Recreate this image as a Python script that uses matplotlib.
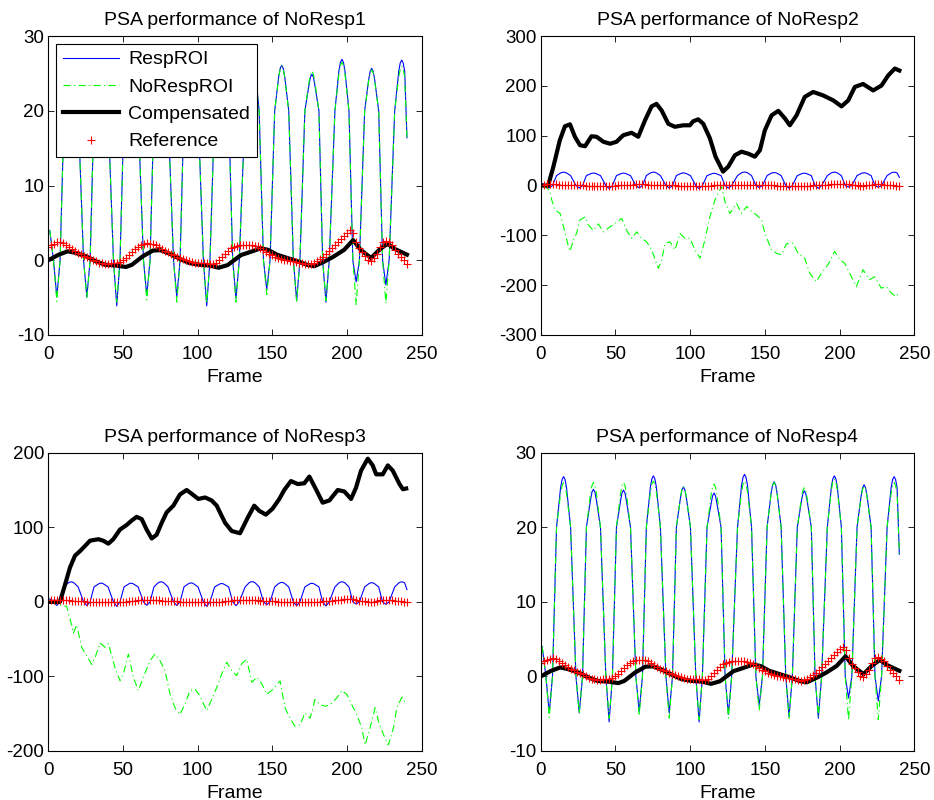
import numpy as np
import matplotlib
matplotlib.use("Agg")
import matplotlib.pyplot as plt

plt.rcParams['font.family'] = ['Liberation Sans', 'DejaVu Sans']
plt.rcParams['axes.unicode_minus'] = False

# RespROI (same signal in all four panels)
resp_frames = [1, 3.5,
               5.7, 7.9, 10.6, 13.3, 14.3, 15.3, 16.3, 17.3, 20.0, 23.6,
               25.8, 28.0, 30.6, 33.3, 34.3, 35.3, 36.3, 37.3, 40.0, 43.6,
               45.8, 48.0, 50.7, 53.4, 54.4, 55.4, 56.4, 57.4, 60.1, 63.7,
               65.9, 68.1, 70.7, 73.4, 74.4, 75.4, 76.4, 77.4, 80.1, 83.8,
               86.0, 88.2, 90.8, 93.5, 94.5, 95.5, 96.5, 97.5, 100.2, 103.8,
               106.0, 108.2, 111.3, 114.0, 115.0, 116.0, 117.0, 118.0, 120.7, 123.4,
               125.6, 127.8, 131.7, 134.4, 135.4, 136.4, 137.4, 138.4, 141.1, 144.0,
               146.2, 148.4, 151.5, 154.2, 155.2, 156.2, 157.2, 158.2, 160.9, 164.0,
               166.2, 168.4, 171.7, 174.4, 175.4, 176.4, 177.4, 178.4, 181.1, 183.6,
               185.8, 188.0, 191.8, 194.5, 195.5, 196.5, 197.5, 198.5, 201.2, 203.8,
               206.0, 208.2, 211.7, 214.4, 215.4, 216.4, 217.4, 218.4, 221.1, 223.7,
               225.9, 228.1, 231.8, 234.5, 235.5, 236.5, 237.5, 238.5, 240]
resp_vals = [4.0, 0,
             -4.9, 0, 20, 25.3, 26.4, 26.8, 26.4, 25.3, 20, 0,
             -4.9, 0, 20, 23.6, 24.7, 25.1, 24.7, 23.6, 20, 0,
             -6.1, 0, 20, 23.5, 24.6, 25.0, 24.6, 23.5, 20, 0,
             -4.7, 0, 20, 25.4, 26.5, 26.9, 26.5, 25.4, 20, 0,
             -4.9, 0, 20, 23.9, 25.0, 25.4, 25.0, 23.9, 20, 0,
             -6.1, 0, 20, 23.1, 24.2, 24.6, 24.2, 23.1, 20, 0,
             -5.1, 0, 20, 25.6, 26.7, 27.1, 26.7, 25.6, 20, 0,
             -3.9, 0, 20, 24.6, 25.7, 26.1, 25.7, 24.6, 20, 0,
             -5.4, 0, 20, 23.4, 24.5, 24.9, 24.5, 23.4, 20, 0,
             -5.6, 0, 20, 25.4, 26.5, 26.9, 26.5, 25.4, 20, 0,
             -2.9, 0, 20, 24.2, 25.3, 25.7, 25.3, 24.2, 20, 0,
             -3.3, 0, 20, 25.3, 26.4, 26.8, 26.4, 25.3, 16.4]

# NoRespROI for NoResp1 / NoResp4 (same frames as RespROI)
noresp14_vals = [4.0, 0,
                 -5.5, 0, 20, 24.5, 25.6, 26.0, 25.6, 24.5, 20, 0,
                 -5.0, 0, 20, 24.5, 25.6, 26.0, 25.6, 24.5, 20, 0,
                 -5.6, 0, 20, 24.5, 25.6, 26.0, 25.6, 24.5, 20, 0,
                 -5.3, 0, 20, 24.7, 25.8, 26.2, 25.8, 24.7, 20, 0,
                 -5.6, 0, 20, 24.0, 25.1, 25.5, 25.1, 24.0, 20, 0,
                 -5.8, 0, 20, 24.3, 25.4, 25.8, 25.4, 24.3, 20, 0,
                 -5.6, 0, 20, 24.7, 25.8, 26.2, 25.8, 24.7, 20, 0,
                 -4.6, 0, 20, 24.5, 25.6, 26.0, 25.6, 24.5, 20, 0,
                 -5.6, 0, 20, 23.8, 24.9, 25.3, 24.9, 23.8, 20, 0,
                 -5.4, 0, 20, 25.0, 26.1, 26.5, 26.1, 25.0, 20, 0,
                 -5.9, 0, 20, 24.0, 25.1, 25.5, 25.1, 24.0, 20, 0,
                 -5.8, 0, 20, 24.5, 25.6, 26.0, 25.6, 24.5, 16.4]

# Reference (every second frame)
ref_frames = np.arange(0, 241, 2)
ref_vals = [1.8, 2.0, 2.2, 2.4, 2.5, 2.3, 2.1, 1.8, 1.5, 1.2,
            1.0, 0.8, 0.6, 0.45, 0.3, 0.0, -0.15, -0.3, -0.4, -0.45,
            -0.45, -0.4, -0.4, -0.35, -0.2, 0.1, 0.3, 0.7, 1.1, 1.5,
            1.8, 2.0, 2.2, 2.25, 2.2, 2.15, 2.0, 1.8, 1.55, 1.3,
            1.05, 0.85, 0.7, 0.5, 0.3, 0.15, 0.0, -0.1, -0.25, -0.3,
            -0.35, -0.35, -0.4, -0.4, -0.45, -0.45, -0.3, 0.0, 0.4, 0.8,
            1.3, 1.6, 1.8, 1.9, 2.0, 2.05, 2.1, 2.1, 2.05, 1.95,
            1.85, 1.6, 1.35, 1.1, 0.9, 0.7, 0.5, 0.3, 0.2, 0.1,
            0.0, -0.05, -0.15, -0.2, -0.3, -0.4, -0.5, -0.55, -0.45, -0.3,
            -0.1, 0.2, 0.5, 0.85, 1.3, 1.7, 2.1, 2.5, 2.9, 3.3,
            3.7, 4.0, 3.6, 2.5, 1.6, 1.1, 0.6, 0.1, -0.1, 0.3,
            0.9, 1.8, 2.5, 2.6, 2.4, 2.0, 1.4, 0.9, 0.5, 0.1,
            -0.5]

# Compensated for NoResp1 / NoResp4
comp14_frames = [0, 7, 13, 18, 25, 32, 38, 45, 52, 56, 63, 70, 75, 81, 88, 94, 101, 108, 114, 120,
                 125, 129, 138, 142, 147, 153, 160, 167, 173, 178, 185, 191, 198, 204, 209, 216, 222, 227, 232, 240]
comp14_vals = [0.0, 0.75, 1.2, 1.0, 0.55, -0.15, -0.6, -0.7, -0.9, -0.6, 0.5, 1.3, 1.35, 0.9, 0.2, -0.35, -0.6, -0.7, -1.0, -0.65,
               0.1, 0.7, 1.3, 1.6, 1.4, 0.75, 0.3, -0.15, -0.6, -0.8, -0.15, 0.5, 1.4, 2.7, 1.4, 0.3, 1.5, 2.2, 1.5, 0.75]

# NoResp2
comp2_frames = [0, 5, 8.5, 12.8, 16.2, 19.6, 22.9, 26.3, 29.7, 34, 37.4, 41.9, 46.4, 50.8, 55.2, 60.8, 65.3, 69.8, 74.2, 77.5,
                80.9, 85.4, 89.8, 95.3, 99.8, 102, 105.4, 108.8, 113.2, 117, 122, 125.5, 130, 134.4, 138.9, 143.3, 146.7, 150, 154.5, 159,
                163.4, 166.7, 171.2, 176.7, 182.3, 189, 195.8, 201.3, 205.8, 210.2, 215.7, 222.5, 228.1, 232.5, 237, 240]
comp2_vals = [0, 0, 38, 91, 119, 123, 98, 81, 79, 99, 98, 88, 84, 88, 101, 106, 98, 131, 159, 164,
              151, 124, 118, 121, 121, 129, 133, 124, 95, 58, 28, 38, 61, 68, 64, 58, 71, 111, 141, 150,
              135, 121, 141, 178, 188, 181, 171, 159, 171, 198, 204, 191, 201, 221, 235, 231]
noresp2_frames = [1.8, 5.8, 7.4, 9.6, 13, 15.2, 18.5, 19.6, 21.9, 24, 26.3, 29.6, 31.9, 35.2, 38.6, 41.9, 46.4, 49.7, 54.2, 57.5,
                  60.9, 64.2, 67.6, 70.9, 74.3, 78.7, 81, 83.2, 86.5, 89.9, 93.2, 96.5, 99.9, 103.2, 106.6, 109.9, 113.2, 116.6, 118.8, 121.1,
                  123.3, 126.6, 131.1, 134.4, 137.8, 141.1, 144.4, 147.8, 150, 154.5, 157.8, 161.1, 164.4, 168.9, 172.2, 176.7, 180, 184.5, 187.8, 192.3,
                  196.7, 200.1, 203.4, 207.9, 211.2, 215.7, 220.1, 223.5, 227.9, 231.3, 234.6, 238, 240]
noresp2_vals = [0, -9, -29, -49, -56, -82, -122, -132, -109, -96, -69, -63, -79, -90, -77, -93, -83, -76, -66, -90,
                -106, -93, -106, -113, -129, -166, -149, -116, -113, -129, -96, -106, -106, -129, -146, -109, -63, -29, -15, -2,
                -32, -56, -36, -56, -42, -52, -59, -69, -96, -129, -136, -139, -117, -116, -136, -146, -176, -193, -176, -159,
                -132, -149, -156, -183, -203, -169, -189, -183, -206, -203, -216, -223, -213]

# NoResp3
comp3_frames = [0, 7.8, 11.2, 14.5, 17.9, 21.2, 24.6, 27.9, 33.5, 36.8, 40.2, 43.5, 48, 52.4, 55.8, 59.1, 62.5, 65.8, 69.2, 72.5,
                75.9, 79.2, 83.7, 88.1, 92.6, 95.9, 100.4, 104.9, 109.3, 112.7, 118.3, 122.7, 128.3, 133.5, 137.8, 141.2, 145.6, 150.1, 154.6, 157.9,
                162.4, 166.9, 171.3, 174.7, 179.1, 183.6, 188.1, 193.7, 198.1, 202.6, 205.9, 209.3, 213.8, 217.1, 219.4, 223.8, 227.2, 230.5, 235, 237.3,
                239.5]
comp3_vals = [0, 0, 23, 46, 62, 68, 75, 82, 84, 82, 78, 84, 97, 103, 109, 114, 111, 97, 85, 90,
              106, 120, 129, 144, 150, 145, 138, 140, 136, 129, 106, 95, 92, 113, 129, 122, 117, 125, 138, 150,
              162, 158, 159, 168, 151, 133, 136, 150, 148, 138, 153, 176, 192, 183, 171, 171, 183, 176, 158, 151,
              152]
noresp3_frames = [1.1, 7.8, 12.3, 15.6, 16.8, 19, 22.3, 25.7, 29, 31.3, 34.6, 38, 40.2, 44.6, 48, 50.2, 53.6, 56.9, 60.3, 63.6,
                  68.1, 71.4, 74.8, 78.1, 81.5, 84.8, 88.1, 91.5, 94.8, 98.2, 101.5, 106, 109.3, 112.7, 116, 119.4, 122.7, 126.1, 129.4, 132.8,
                  136.2, 139.5, 142.9, 146.2, 150.6, 155.1, 158.4, 161.8, 165.1, 168.5, 171.8, 175.2, 178.5, 181.9, 185.2, 188.6, 193, 196.4, 199.7, 203.1,
                  206.4, 209.8, 212, 215.3, 218.7, 220.9, 224.3, 227.6, 231, 233.2, 236.6, 238.8]
noresp3_vals = [0, -4, -6, -31, -42, -31, -61, -72, -84, -75, -55, -61, -56, -88, -106, -97, -70, -101, -119, -101,
                -79, -70, -79, -92, -124, -142, -151, -137, -119, -117, -126, -146, -131, -115, -97, -81, -92, -99, -83, -77,
                -108, -101, -110, -124, -117, -106, -142, -156, -167, -165, -149, -156, -131, -138, -140, -138, -129, -119, -124, -138,
                -151, -169, -192, -169, -142, -160, -178, -192, -169, -142, -128, -135]

titles = ["PSA performance of NoResp1", "PSA performance of NoResp2",
          "PSA performance of NoResp3", "PSA performance of NoResp4"]
ylims = [(-10, 30), (-300, 300), (-200, 200), (-10, 30)]
ystep = [10, 100, 100, 10]

panels = [(resp_frames, noresp14_vals, comp14_frames, comp14_vals),
          (noresp2_frames, noresp2_vals, comp2_frames, comp2_vals),
          (noresp3_frames, noresp3_vals, comp3_frames, comp3_vals),
          (resp_frames, noresp14_vals, comp14_frames, comp14_vals)]

positions = [(0.0517, 0.5813, 0.4, 0.3735), (0.5789, 0.5813, 0.4, 0.3735),
             (0.0517, 0.0613, 0.4, 0.3728), (0.5789, 0.0613, 0.4, 0.3728)]

fig = plt.figure(figsize=(9.34, 8.0), dpi=100)

for i in range(4):
    ax = fig.add_axes(positions[i])
    nx, ny, cx, cy = panels[i]
    ax.plot(resp_frames, resp_vals, color=(0, 0, 1), lw=0.8, label="RespROI")
    ax.plot(nx, ny, color=(0, 1, 0), lw=0.8, ls=(0, (6.5, 3, 1, 3)), label="NoRespROI")
    ax.plot(cx, cy, color='k', lw=3, solid_joinstyle='round', label="Compensated")
    ax.plot(ref_frames, ref_vals, 'r+', ms=5.5, mew=0.8, label="Reference")

    ax.set_xlim(0, 250)
    ax.set_ylim(*ylims[i])
    ax.set_xticks(np.arange(0, 251, 50))
    ax.set_yticks(np.arange(ylims[i][0], ylims[i][1] + 1, ystep[i]))
    ax.tick_params(direction='in', top=True, right=True, length=4, width=0.6, labelsize=13.5)
    ax.tick_params(axis='x', pad=8)
    ax.tick_params(axis='y', pad=3)
    for s in ax.spines.values():
        s.set_linewidth(0.8)
    ax.set_title(titles[i], fontsize=14, pad=8)
    ax.set_xlabel("Frame", fontsize=14, labelpad=4)

    if i == 0:
        leg = ax.legend(loc='upper left', fontsize=14, fancybox=False, edgecolor='k', framealpha=1,
                        handlelength=2.9, handletextpad=0.45, labelspacing=0.5, borderpad=0.35,
                        borderaxespad=0.4)
        leg.get_frame().set_linewidth(0.8)

fig.savefig("out.png", dpi=100)
